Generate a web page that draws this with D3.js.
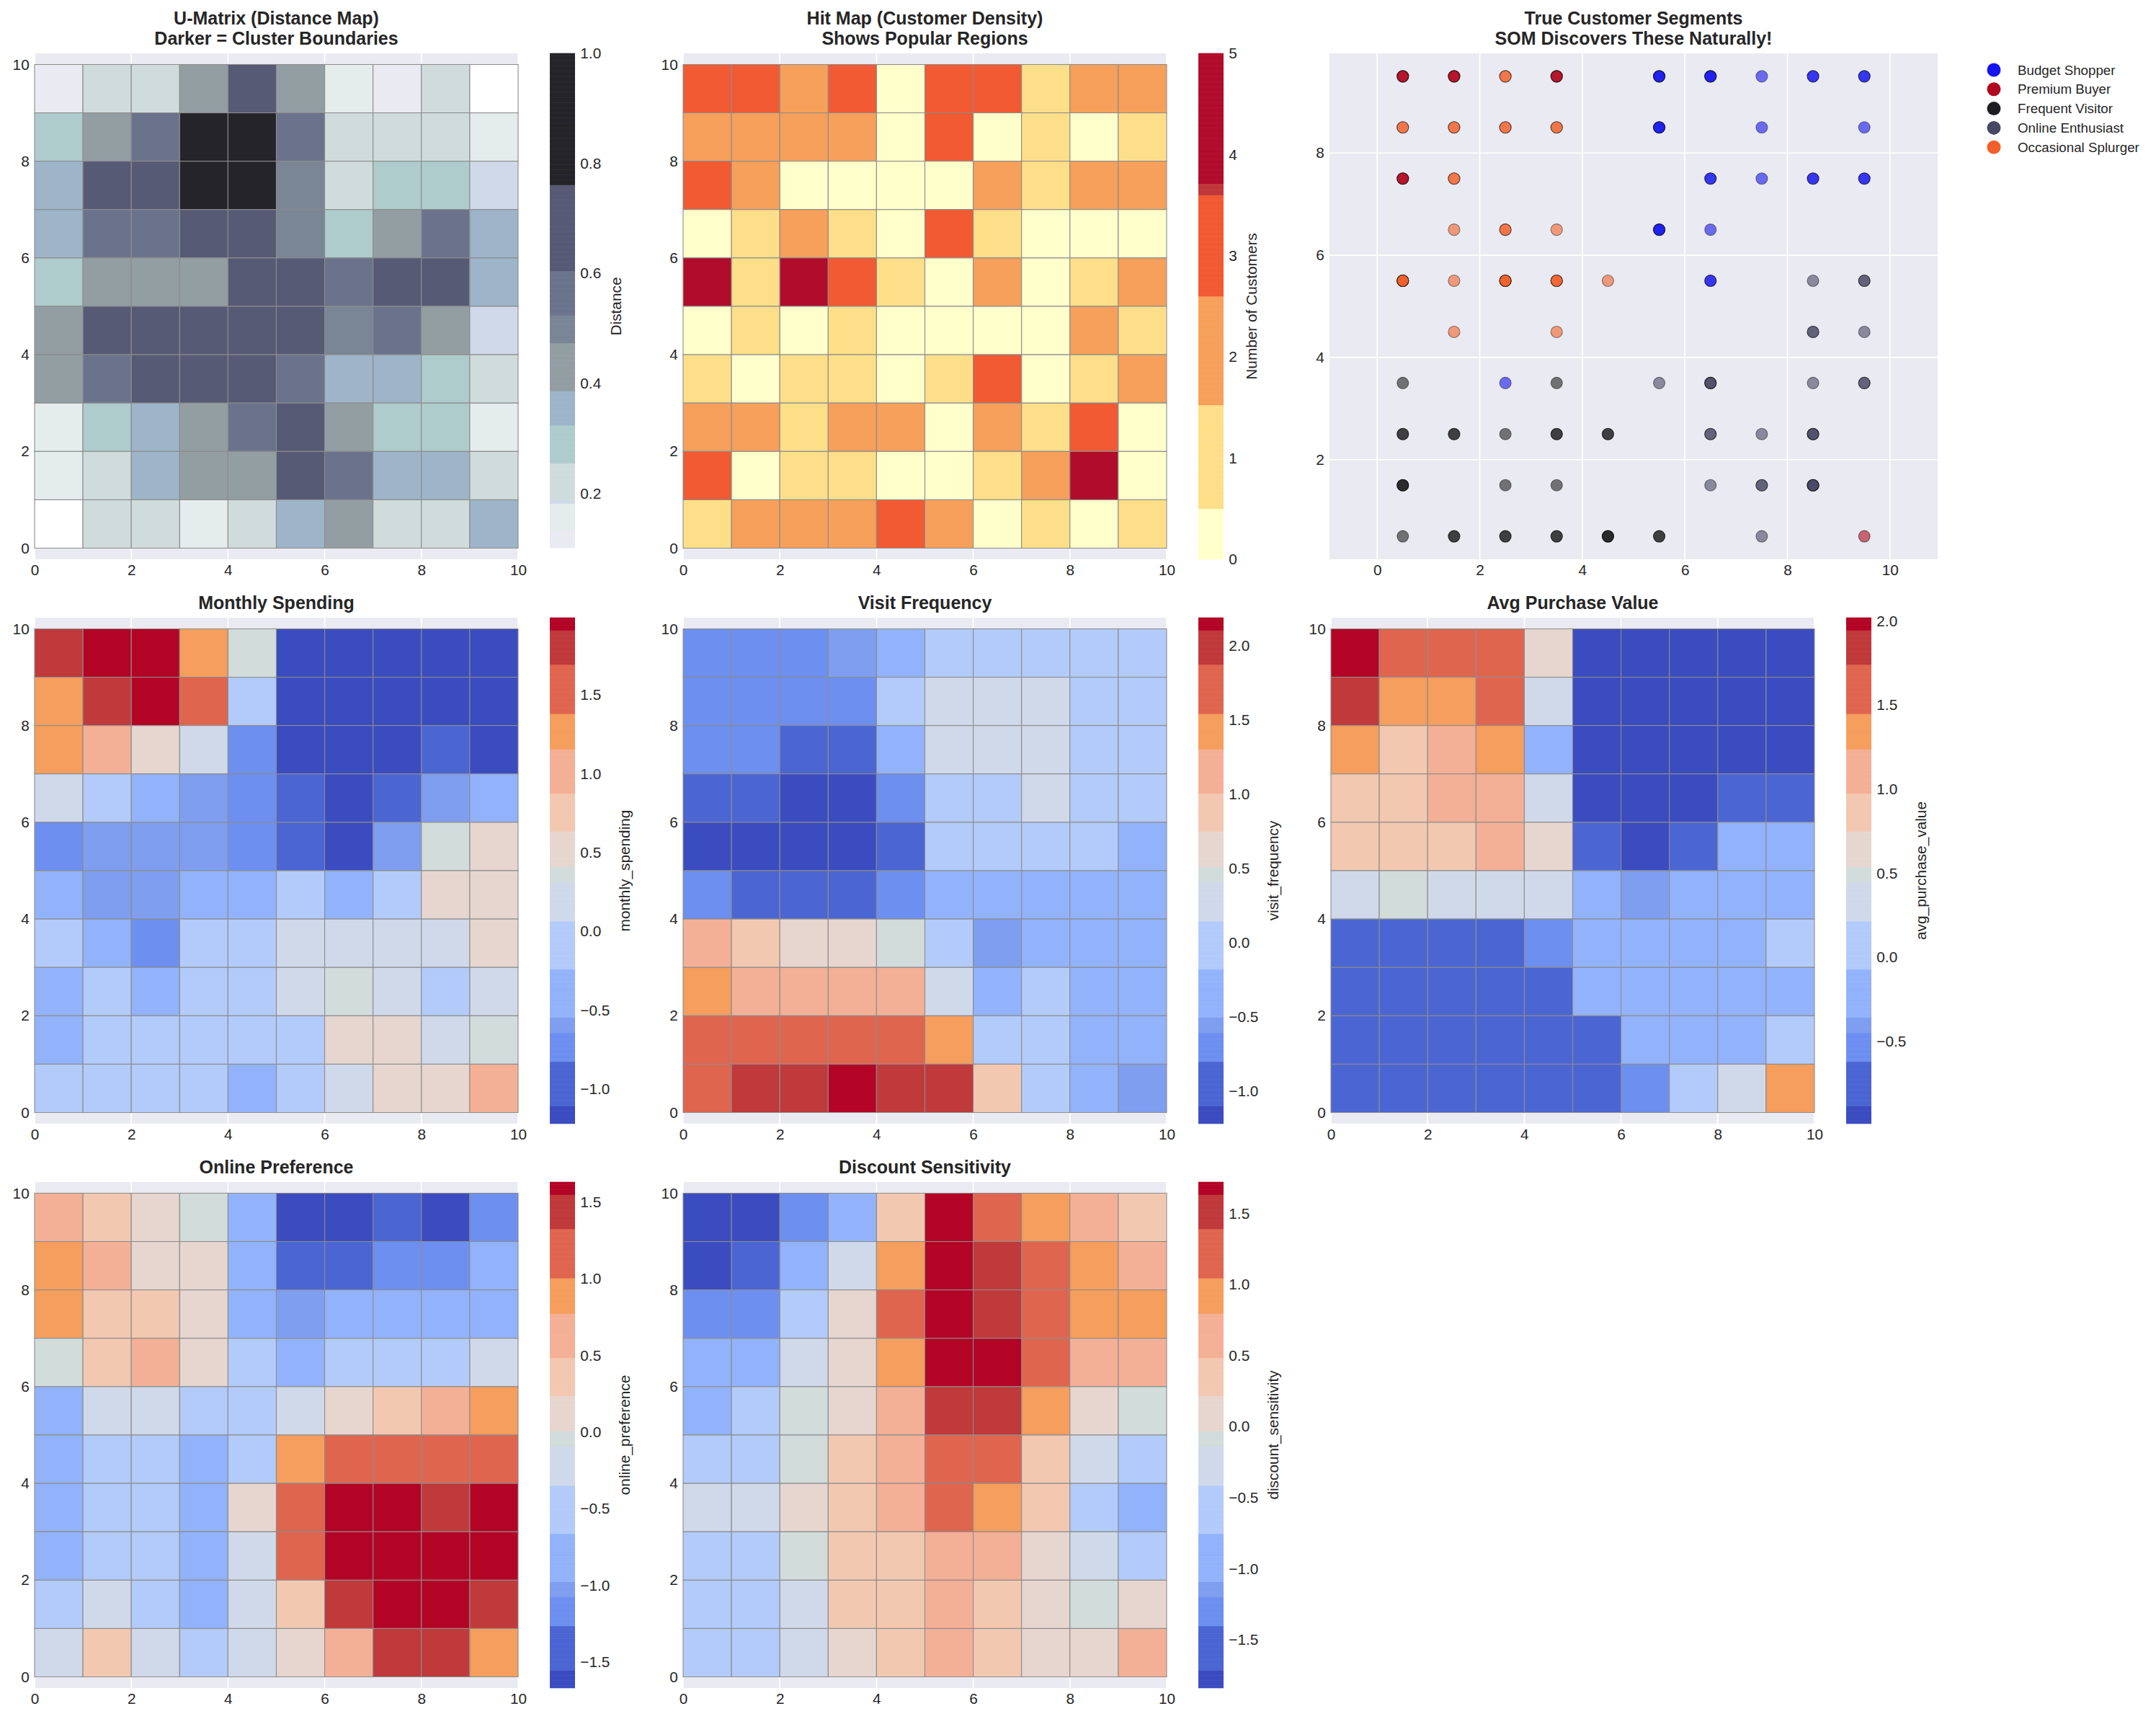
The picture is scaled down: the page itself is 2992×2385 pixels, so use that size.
<!DOCTYPE html>
<html>
<head>
<meta charset="utf-8">
<script src="https://cdn.jsdelivr.net/npm/d3@7"></script>
<style>
  body { margin: 0; background: #fff; }
  svg { display: block; }
  text { font-family: "Liberation Sans", Arial, sans-serif; fill: #262626; }
</style>
</head>
<body>
<svg id="chart" width="2992" height="2385"></svg>
<script>
// ---- data (rows listed from the top of the map, y = 9, down to y = 0) ----
const uMatrix = [
  [0.12, 0.22, 0.23, 0.43, 0.68, 0.42, 0.16, 0.12, 0.21, 0.09],
  [0.29, 0.43, 0.56, 1.00, 0.95, 0.55, 0.22, 0.23, 0.21, 0.16],
  [0.35, 0.67, 0.69, 0.93, 0.91, 0.50, 0.22, 0.29, 0.28, 0.185],
  [0.36, 0.56, 0.57, 0.68, 0.66, 0.49, 0.29, 0.43, 0.56, 0.35],
  [0.30, 0.42, 0.43, 0.44, 0.68, 0.70, 0.55, 0.67, 0.69, 0.36],
  [0.43, 0.68, 0.67, 0.69, 0.68, 0.70, 0.50, 0.56, 0.42, 0.186],
  [0.42, 0.56, 0.68, 0.69, 0.67, 0.57, 0.35, 0.36, 0.29, 0.22],
  [0.16, 0.30, 0.35, 0.43, 0.56, 0.68, 0.42, 0.29, 0.28, 0.15],
  [0.15, 0.22, 0.36, 0.43, 0.42, 0.69, 0.56, 0.35, 0.36, 0.23],
  [0.08, 0.22, 0.21, 0.16, 0.22, 0.35, 0.43, 0.22, 0.23, 0.35]
];

const hits = [
  [3, 3, 2, 3, 0, 3, 3, 1, 2, 2],
  [2, 2, 2, 2, 0, 3, 0, 1, 0, 1],
  [3, 2, 0, 0, 0, 0, 2, 1, 2, 2],
  [0, 1, 2, 1, 0, 3, 1, 0, 0, 0],
  [5, 1, 4, 3, 1, 0, 2, 0, 1, 2],
  [0, 1, 0, 1, 0, 0, 0, 0, 2, 1],
  [1, 0, 1, 1, 0, 1, 3, 0, 1, 2],
  [2, 2, 1, 2, 2, 0, 2, 1, 3, 0],
  [3, 0, 1, 1, 0, 0, 1, 2, 4, 0],
  [1, 2, 2, 2, 3, 2, 0, 1, 0, 1]
];

const monthlySpending = [
  [1.80, 1.95, 1.98, 1.26, 0.36, -1.16, -1.18, -1.15, -1.19, -1.17],
  [1.24, 1.78, 1.97, 1.52, -0.08, -1.18, -1.16, -1.20, -1.17, -1.15],
  [1.27, 1.02, 0.52, 0.18, -0.73, -1.19, -1.17, -1.14, -0.95, -1.16],
  [0.20, -0.12, -0.40, -0.60, -0.71, -0.98, -1.21, -0.93, -0.58, -0.37],
  [-0.75, -0.60, -0.59, -0.57, -0.72, -0.99, -1.20, -0.61, 0.34, 0.50],
  [-0.36, -0.58, -0.60, -0.41, -0.38, -0.09, -0.42, -0.11, 0.53, 0.49],
  [-0.10, -0.39, -0.76, -0.12, -0.08, 0.17, 0.21, 0.18, 0.20, 0.52],
  [-0.40, -0.09, -0.35, -0.11, -0.13, 0.19, 0.36, 0.16, -0.07, 0.22],
  [-0.38, -0.10, -0.12, -0.09, -0.11, -0.14, 0.50, 0.53, 0.18, 0.33],
  [-0.08, -0.11, -0.10, -0.13, -0.37, -0.12, 0.20, 0.52, 0.55, 1.05]
];

const visitFrequency = [
  [-0.71, -0.69, -0.72, -0.55, -0.33, -0.03, -0.01, -0.04, -0.02, -0.05],
  [-0.70, -0.72, -0.68, -0.71, -0.04, 0.27, 0.29, 0.26, -0.03, -0.01],
  [-0.69, -0.73, -0.94, -0.96, -0.35, 0.28, 0.27, 0.30, -0.02, -0.04],
  [-0.95, -0.97, -1.16, -1.18, -0.72, -0.03, -0.05, 0.26, -0.01, -0.02],
  [-1.18, -1.16, -1.17, -1.15, -0.93, -0.02, -0.04, -0.03, -0.06, -0.33],
  [-0.71, -0.94, -0.96, -0.93, -0.70, -0.35, -0.32, -0.34, -0.36, -0.33],
  [1.16, 0.89, 0.62, 0.64, 0.46, -0.03, -0.55, -0.34, -0.31, -0.35],
  [1.43, 1.14, 1.15, 1.17, 1.13, 0.27, -0.33, -0.02, -0.34, -0.36],
  [1.70, 1.72, 1.69, 1.71, 1.73, 1.41, -0.04, -0.01, -0.32, -0.35],
  [1.68, 1.98, 2.00, 2.17, 1.97, 1.99, 0.87, -0.03, -0.33, -0.56]
];

const avgPurchaseValue = [
  [2.00, 1.58, 1.62, 1.61, 0.65, -0.94, -0.95, -0.93, -0.96, -0.94],
  [1.83, 1.32, 1.34, 1.59, 0.32, -0.93, -0.95, -0.94, -0.97, -0.92],
  [1.35, 0.85, 1.09, 1.31, -0.22, -0.95, -0.93, -0.96, -0.94, -0.95],
  [0.87, 0.84, 1.11, 1.08, 0.30, -0.92, -0.96, -0.94, -0.74, -0.76],
  [0.85, 0.88, 0.84, 1.12, 0.66, -0.77, -0.97, -0.73, -0.20, -0.22],
  [0.34, 0.49, 0.31, 0.35, 0.32, -0.19, -0.41, -0.23, -0.21, -0.18],
  [-0.74, -0.76, -0.73, -0.77, -0.53, -0.21, -0.20, -0.22, -0.19, 0.06],
  [-0.75, -0.73, -0.76, -0.74, -0.77, -0.22, -0.21, -0.19, -0.23, -0.20],
  [-0.76, -0.74, -0.75, -0.73, -0.76, -0.74, -0.20, -0.22, -0.21, 0.08],
  [-0.73, -0.75, -0.77, -0.74, -0.76, -0.75, -0.55, 0.07, 0.33, 1.34]
];

const onlinePreference = [
  [0.63, 0.35, 0.11, -0.05, -0.80, -1.62, -1.60, -1.40, -1.63, -1.18],
  [0.88, 0.65, 0.13, 0.10, -0.82, -1.42, -1.40, -1.16, -1.18, -0.79],
  [0.86, 0.37, 0.34, 0.12, -0.81, -1.03, -0.80, -0.83, -0.79, -0.82],
  [-0.04, 0.36, 0.62, 0.11, -0.50, -0.81, -0.52, -0.49, -0.53, -0.23],
  [-0.80, -0.22, -0.20, -0.51, -0.49, -0.21, 0.13, 0.38, 0.63, 0.88],
  [-0.82, -0.50, -0.52, -0.79, -0.48, 0.89, 1.16, 1.18, 1.15, 1.19],
  [-0.80, -0.51, -0.49, -0.83, 0.12, 1.17, 1.60, 1.62, 1.42, 1.61],
  [-0.81, -0.50, -0.52, -0.78, -0.21, 1.15, 1.61, 1.59, 1.62, 1.60],
  [-0.50, -0.22, -0.51, -0.80, -0.20, 0.37, 1.44, 1.60, 1.61, 1.43],
  [-0.21, 0.36, -0.23, -0.52, -0.22, 0.11, 0.65, 1.42, 1.44, 0.87]
];

const discountSensitivity = [
  [-1.78, -1.79, -1.30, -0.90, 0.34, 1.69, 1.22, 0.91, 0.64, 0.36],
  [-1.77, -1.55, -0.92, -0.28, 0.89, 1.70, 1.50, 1.21, 0.92, 0.66],
  [-1.32, -1.29, -0.58, 0.07, 1.23, 1.68, 1.52, 1.20, 0.90, 0.88],
  [-0.90, -0.92, -0.26, 0.09, 0.91, 1.71, 1.69, 1.23, 0.63, 0.65],
  [-0.89, -0.60, -0.08, 0.06, 0.66, 1.49, 1.53, 0.89, 0.08, -0.10],
  [-0.58, -0.61, -0.09, 0.34, 0.64, 1.21, 1.24, 0.36, -0.27, -0.57],
  [-0.28, -0.26, 0.07, 0.37, 0.67, 1.20, 0.92, 0.33, -0.60, -0.91],
  [-0.59, -0.57, -0.07, 0.35, 0.34, 0.63, 0.66, 0.09, -0.25, -0.58],
  [-0.60, -0.58, -0.27, 0.36, 0.33, 0.65, 0.37, 0.06, -0.08, 0.07],
  [-0.57, -0.59, -0.26, 0.08, 0.35, 0.64, 0.34, 0.09, 0.07, 0.62]
];

// dominant true segment of the customers mapped to each node ('.' = no customers)
const segmentNames = ["Budget Shopper", "Premium Buyer", "Frequent Visitor", "Online Enthusiast", "Occasional Splurger"];
const segmentCodes = ["B", "P", "F", "O", "S"];
const cellSegments = [
  "PPSP.BBBBB",
  "SSSS.B.B.B",
  "PS....BBBB",
  ".SSS.BB...",
  "SSSSS.B.OO",
  ".S.S....OO",
  "F.BF.OO.OO",
  "FFFFF.OOO.",
  "F.FF..OOO.",
  "FFFFFF.O.P"
];

const mapTicks = [0, 2, 4, 6, 8, 10];
const scatterYTicks = [2, 4, 6, 8];

// ---- colours ----
const segmentColors = ["#1414f0", "#b0081f", "#1e1e22", "#484864", "#f1602a"];
const boneColors = ["#ffffff", "#eaeaf2", "#e4ecec", "#cfd9ea", "#d0dcdc", "#aecccb",
  "#9db4c9", "#939ea3", "#7a8596", "#6b738c", "#575a75", "#242429"];
const boneThresholds = [0.10, 0.133, 0.182, 0.189, 0.254, 0.323, 0.387, 0.474, 0.525, 0.604, 0.76];
const hitColors = ["#ffffcc", "#fedf89", "#f6a05b", "#f15a33", "#c0363a", "#b10c2b"];
const hitThresholds = [0.5, 1.53, 2.6, 3.6, 3.71];
const coolColors = ["#3b4cc0", "#4b65d3", "#6d8ff0", "#7f9eef", "#92b3fb", "#b2cbfa", "#cfd9ea",
  "#d1dcdb", "#e6d6cf", "#f3c8b1", "#f4b096", "#f59e5d", "#e0654f", "#c0393b", "#b30426"];
const coolStops = [0.035, 0.122, 0.180, 0.210, 0.306, 0.399, 0.477, 0.508, 0.578, 0.653, 0.739, 0.809, 0.907, 0.974];

function coolScale(lo, hi) {
  const t = d3.scaleLinear().domain([lo, hi]).range([0, 1]);
  return d3.scaleThreshold().domain(coolStops.map(s => t.invert(s))).range(coolColors);
}

// ---- layout ----
const svg = d3.select("#chart");
const colLeft = [48, 948, 1847];
const rowTop = [74, 857, 1640];
const axesW = 671, axesH = 702;
const tickSize = 20.8, titleSize = 25;
const fmt1 = d3.format(".1f");

const panels = [
  { title: ["U-Matrix (Distance Map)", "Darker = Cluster Boundaries"], values: uMatrix, col: 0, row: 0,
    domain: [0.08, 1.0], color: d3.scaleThreshold().domain(boneThresholds).range(boneColors),
    label: "Distance", ticks: [0.2, 0.4, 0.6, 0.8, 1.0], fmt: fmt1 },
  { title: ["Hit Map (Customer Density)", "Shows Popular Regions"], values: hits, col: 1, row: 0,
    domain: [0, 5], color: d3.scaleThreshold().domain(hitThresholds).range(hitColors),
    label: "Number of Customers", ticks: [0, 1, 2, 3, 4, 5], fmt: d3.format("d") },
  { title: ["Monthly Spending"], values: monthlySpending, col: 0, row: 1,
    domain: [-1.22, 1.99], label: "monthly_spending", ticks: [-1, -0.5, 0, 0.5, 1, 1.5], fmt: fmt1 },
  { title: ["Visit Frequency"], values: visitFrequency, col: 1, row: 1,
    domain: [-1.22, 2.19], label: "visit_frequency", ticks: [-1, -0.5, 0, 0.5, 1, 1.5, 2], fmt: fmt1 },
  { title: ["Avg Purchase Value"], values: avgPurchaseValue, col: 2, row: 1,
    domain: [-0.99, 2.02], label: "avg_purchase_value", ticks: [-0.5, 0, 0.5, 1, 1.5, 2], fmt: fmt1 },
  { title: ["Online Preference"], values: onlinePreference, col: 0, row: 2,
    domain: [-1.67, 1.63], label: "online_preference", ticks: [-1.5, -1, -0.5, 0, 0.5, 1, 1.5], fmt: fmt1 },
  { title: ["Discount Sensitivity"], values: discountSensitivity, col: 1, row: 2,
    domain: [-1.84, 1.72], label: "discount_sensitivity", ticks: [-1.5, -1, -0.5, 0, 0.5, 1, 1.5], fmt: fmt1 }
];

function styleAxis(g) {
  g.select(".domain").remove();
  g.attr("font-size", null).attr("font-family", null);
  g.selectAll("text").style("font-size", tickSize + "px").attr("fill", "#262626");
}

function drawTitle(lines, cx, axesTop) {
  const n = lines.length;
  lines.forEach((t, i) => {
    svg.append("text")
      .attr("x", cx)
      .attr("y", axesTop - 12.5 - (n - 1 - i) * 28)
      .attr("text-anchor", "middle")
      .style("font-size", titleSize + "px")
      .style("font-weight", "bold")
      .text(t);
  });
}

function drawGrid(g, xs, ys, xt, yt, x0, x1, y0, y1) {
  g.selectAll(null).data(xt).join("line")
    .attr("x1", d => xs(d)).attr("x2", d => xs(d)).attr("y1", y0).attr("y2", y1)
    .attr("stroke", "#fff").attr("stroke-width", 1.7);
  g.selectAll(null).data(yt).join("line")
    .attr("y1", d => ys(d)).attr("y2", d => ys(d)).attr("x1", x0).attr("x2", x1)
    .attr("stroke", "#fff").attr("stroke-width", 1.7);
}

function drawPanel(p) {
  const left = colLeft[p.col], top = rowTop[p.row];
  const color = p.color || coolScale(p.domain[0], p.domain[1]);
  const g = svg.append("g");
  const xs = d3.scaleLinear().domain([0, 10]).range([left, left + axesW]);
  const ys = d3.scaleLinear().domain([-0.23, 10.23]).range([top + axesH, top]);

  g.append("rect").attr("x", left).attr("y", top).attr("width", axesW).attr("height", axesH).attr("fill", "#eaeaf2");
  drawGrid(g, xs, ys, mapTicks, mapTicks, left, left + axesW, top, top + axesH);

  const cells = p.values.flatMap((row, r) => row.map((v, c) => ({ r, c, v })));
  g.selectAll(".cell").data(cells).join("rect")
    .attr("class", "cell")
    .attr("x", d => xs(d.c))
    .attr("y", d => ys(10 - d.r))
    .attr("width", d => xs(d.c + 1) - xs(d.c))
    .attr("height", d => ys(9 - d.r) - ys(10 - d.r))
    .attr("fill", d => color(d.v))
    .attr("stroke", "#8c8c8c")
    .attr("stroke-width", 1.1);

  g.append("g").attr("transform", `translate(0,${top + axesH})`)
    .call(d3.axisBottom(xs).tickValues(mapTicks).tickSize(0).tickPadding(7.3)).call(styleAxis);
  g.append("g").attr("transform", `translate(${left},0)`)
    .call(d3.axisLeft(ys).tickValues(mapTicks).tickSize(0).tickPadding(7.3)).call(styleAxis);

  // colorbar
  const cbX = left + 715, cbW = 35;
  const cs = d3.scaleLinear().domain(p.domain).range([top + axesH, top]);
  const steps = d3.range(400).map(i => p.domain[0] + (i + 0.5) / 400 * (p.domain[1] - p.domain[0]));
  const dv = (p.domain[1] - p.domain[0]) / 400;
  g.selectAll(".cb").data(steps).join("rect")
    .attr("x", cbX).attr("width", cbW)
    .attr("y", d => cs(d + dv / 2) - 0.3)
    .attr("height", d => cs(d - dv / 2) - cs(d + dv / 2) + 0.6)
    .attr("fill", d => color(d));
  const cbAxis = g.append("g").attr("transform", `translate(${cbX + cbW},0)`)
    .call(d3.axisRight(cs).tickValues(p.ticks).tickSize(0).tickPadding(7.3).tickFormat(p.fmt)).call(styleAxis);
  let maxW = 0;
  cbAxis.selectAll("text").each(function () { maxW = Math.max(maxW, this.getComputedTextLength()); });
  const lx = cbX + cbW + 7.3 + maxW + 8.3 + 19;
  g.append("text")
    .attr("transform", `translate(${lx},${top + axesH / 2}) rotate(-90)`)
    .attr("text-anchor", "middle")
    .style("font-size", tickSize + "px")
    .text(p.label);

  drawTitle(p.title, left + axesW / 2, top);
}

panels.forEach(drawPanel);

// ---- segments scatter ----
(function () {
  const x0 = 1845, x1 = 2689, top = rowTop[0], bottom = rowTop[0] + axesH;
  const xs = d3.scaleLinear().domain([-0.93, 10.93]).range([x0, x1]);
  const ys = d3.scaleLinear().domain([0.05, 9.95]).range([bottom, top]);
  const segColor = d3.scaleOrdinal().domain(segmentCodes).range(segmentColors);
  const g = svg.append("g");
  g.append("rect").attr("x", x0).attr("y", top).attr("width", x1 - x0).attr("height", bottom - top).attr("fill", "#eaeaf2");
  drawGrid(g, xs, ys, mapTicks, scatterYTicks, x0, x1, top, bottom);

  // one marker per customer, stacked on the node it maps to
  const dots = [];
  cellSegments.forEach((row, r) => {
    row.split("").forEach((s, c) => {
      if (s === ".") return;
      for (let k = 0; k < hits[r][c]; k++) dots.push({ x: c + 0.5, y: 9 - r + 0.5, s });
    });
  });
  g.selectAll(".dot").data(dots).join("circle")
    .attr("cx", d => xs(d.x)).attr("cy", d => ys(d.y)).attr("r", 8)
    .attr("fill", d => segColor(d.s)).attr("fill-opacity", 0.6)
    .attr("stroke", "#000").attr("stroke-opacity", 0.45).attr("stroke-width", 1.1);

  g.append("g").attr("transform", `translate(0,${bottom})`)
    .call(d3.axisBottom(xs).tickValues(mapTicks).tickSize(0).tickPadding(7.3)).call(styleAxis);
  g.append("g").attr("transform", `translate(${x0},0)`)
    .call(d3.axisLeft(ys).tickValues(scatterYTicks).tickSize(0).tickPadding(7.3)).call(styleAxis);

  drawTitle(["True Customer Segments", "SOM Discovers These Naturally!"], (x0 + x1) / 2, top);

  // legend
  const lg = svg.append("g");
  const items = segmentNames.map((n, i) => ({ n, code: segmentCodes[i], i }));
  lg.selectAll("circle").data(items).join("circle")
    .attr("cx", 2767).attr("cy", d => 97 + d.i * 26.8).attr("r", 9.5)
    .attr("fill", d => segColor(d.code));
  lg.selectAll("text").data(items).join("text")
    .attr("x", 2800).attr("y", d => 97 + d.i * 26.8).attr("dy", "0.35em")
    .style("font-size", "18.75px")
    .text(d => d.n);
})();
</script>
</body>
</html>
